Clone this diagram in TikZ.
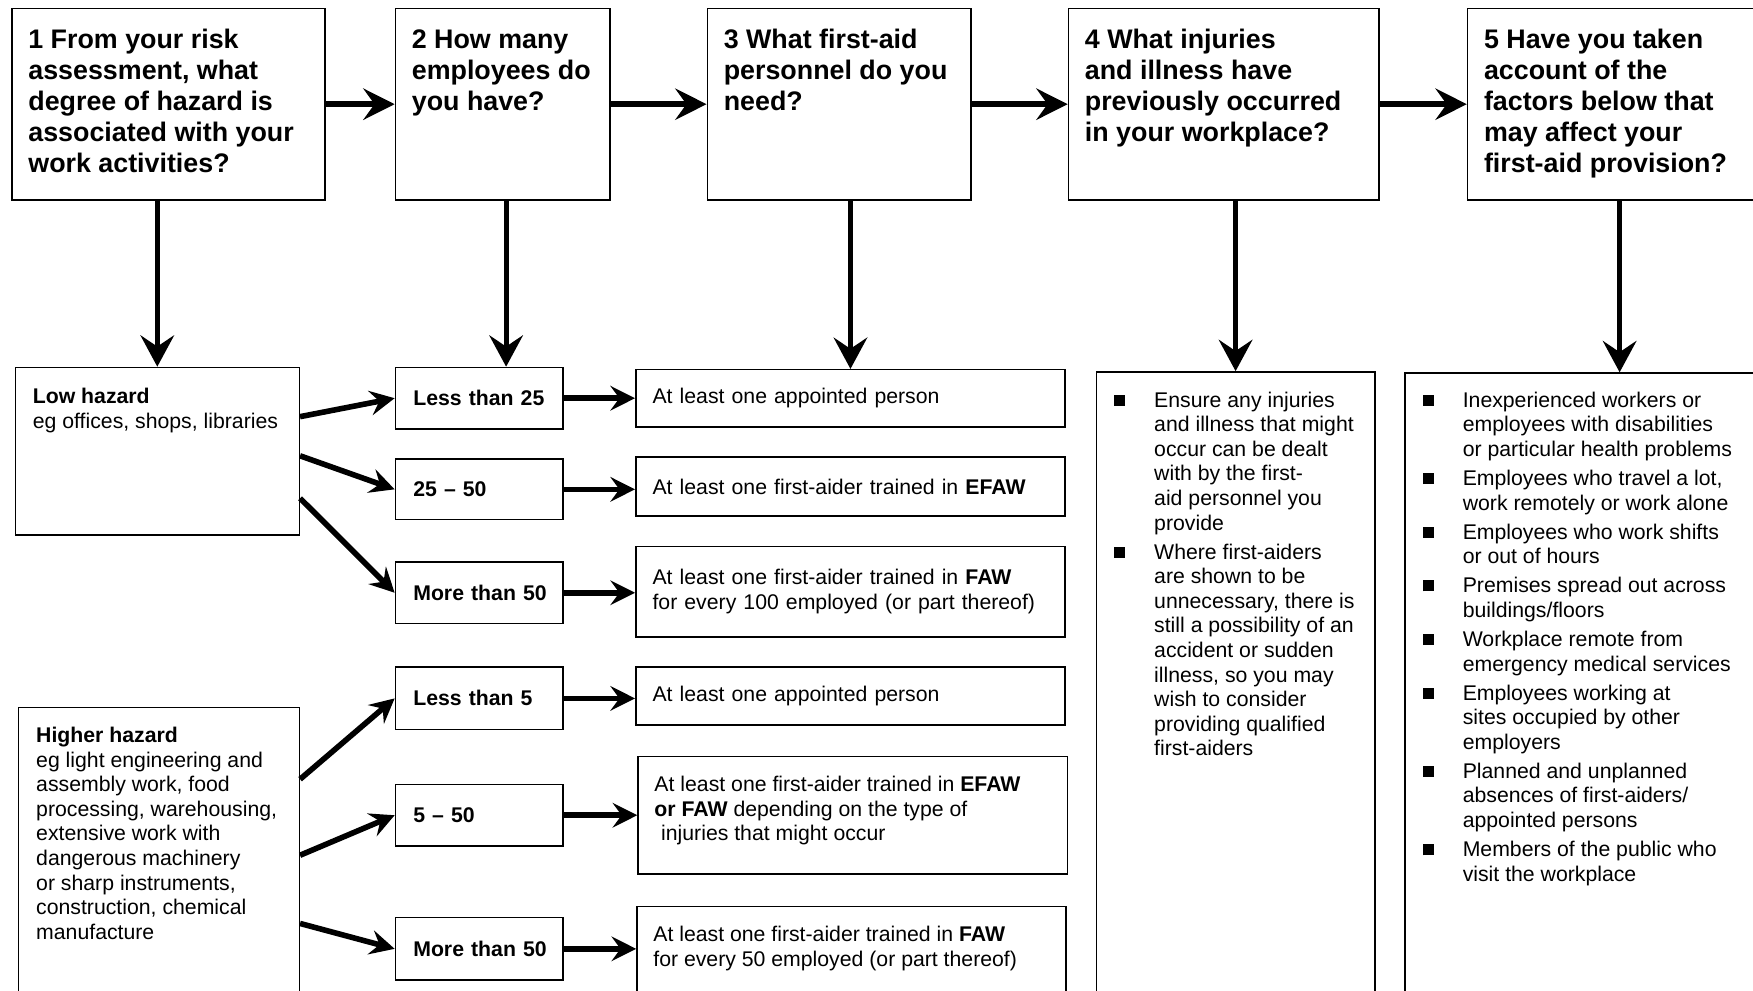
\documentclass[tikz,border=0pt]{standalone}
\usepackage{fontspec}
\setmainfont{Liberation Sans}
\usetikzlibrary{arrows.meta}
\newcommand{\sqbul}{\rule[0.6pt]{5pt}{5pt}}

\begin{document}
\begin{tikzpicture}[x=0.5pt, y=-0.5pt,
      box/.style={draw, line width=0.7pt, anchor=north west, inner sep=0pt},
      qtxt/.style={anchor=north west, inner sep=0pt, align=left, font=\fontsize{12}{13.85}\selectfont\bfseries},
      btxt/.style={anchor=north west, inner sep=0pt, align=left, font=\fontsize{9.5}{11}\selectfont},
      ltxt/.style={anchor=north west, inner sep=0pt, font=\fontsize{9.5}{11}\selectfont},
      nbox/.style={draw, line width=0.7pt, anchor=north west, minimum width=75pt, text width=59pt, inner xsep=8pt, inner ysep=0pt, align=left, font=\fontsize{9.5}{11}\selectfont\bfseries},
      rbox/.style={draw, line width=0.7pt, anchor=north west, minimum width=192pt, text width=177pt, inner xsep=7.5pt, inner ysep=0pt, align=left, font=\fontsize{9.5}{11}\selectfont},
      big/.style={-{Stealth[length=14pt, width=14pt, inset=5pt]}, line width=2.7pt},
      down/.style={-{Stealth[length=14pt, width=15pt, inset=5pt]}, line width=2.2pt},
      arr/.style={-{Stealth[length=11pt, width=11pt, inset=4pt]}, line width=2.5pt}]
    \useasboundingbox (0,0) rectangle (1568,886);
    \clip (0,0) rectangle (1568,886);

    % question boxes
    \node[box, minimum width=140pt, minimum height=85.5pt] (q1) at (10,7) {};
    \node[box, minimum width=96pt, minimum height=85.5pt] (q2) at (353,7) {};
    \node[box, minimum width=118pt, minimum height=85.5pt] (q3) at (632,7) {};
    \node[box, minimum width=139pt, minimum height=85.5pt] (q4) at (955,7) {};
    \node[box, minimum width=140pt, minimum height=85.5pt] (q5) at (1312,7) {};
    \node[qtxt] (q1t) at ([shift={(15,19)}]q1.north west) {1 From your risk\\assessment, what\\degree of hazard is\\associated with your\\work activities?};
    \node[qtxt] (q2t) at ([shift={(15,19)}]q2.north west) {2 How many\\employees do\\you have?};
    \node[qtxt] (q3t) at ([shift={(15,19)}]q3.north west) {3 What first-aid\\personnel do you\\need?};
    \node[qtxt] (q4t) at ([shift={(15,19)}]q4.north west) {4 What injuries\\and illness have\\previously occurred\\in your workplace?};
    \node[qtxt] (q5t) at ([shift={(15,19)}]q5.north west) {5 Have you taken\\account of the\\factors below that\\may affect your\\first-aid provision?};

    % hazard level
    \node[box, minimum width=127pt, minimum height=75pt] (low) at (13,328) {};
    \node[btxt] (lowt) at ([shift={(16,19)}]low.north west) {\textbf{Low hazard}\\eg offices, shops, libraries};
    \node[box, minimum width=125.5pt, minimum height=150pt] (high) at (16,632) {};
    \node[btxt] (hight) at ([shift={(16,18)}]high.north west) {\textbf{Higher hazard}\\eg light engineering and\\assembly work, food\\processing, warehousing,\\extensive work with\\dangerous machinery\\or sharp instruments,\\construction, chemical\\manufacture};

    % number of employees
    \node[nbox, minimum height=27.5pt] (n1) at (353,328) {\mbox{Less than 25}};
    \node[nbox, minimum height=27pt] (n2) at (353,410) {25 -- 50};
    \node[nbox, minimum height=27.5pt] (n3) at (353,502) {\mbox{More than 50}};
    \node[nbox, minimum height=28pt] (n4) at (353,596) {Less than 5};
    \node[nbox, minimum height=27.5pt] (n5) at (353,701) {5 -- 50};
    \node[nbox, minimum height=28pt] (n6) at (353,820) {\mbox{More than 50}};

    % personnel needed
    \node[rbox, minimum height=25.5pt] (r1) at (568,330) {At least one appointed person};
    \node[rbox, minimum height=26.5pt] (r2) at (568,408) {At least one first-aider trained in \textbf{EFAW}};
    \node[rbox, minimum height=40.5pt] (r3) at (568,488) {At least one first-aider trained in \textbf{FAW}\\for every 100 employed (or part thereof)};
    \node[rbox, minimum height=26pt] (r4) at (568,596) {At least one appointed person};
    \node[box, minimum width=192pt, minimum height=52.5pt] (r5) at (570,676) {};
    \node[btxt] (r5t) at ([shift={(15,18)}]r5.north west) {At least one first-aider trained in \textbf{EFAW}\\\textbf{or FAW} depending on the type of\\\hspace*{3pt}injuries that might occur};
    \node[box, minimum width=192pt, minimum height=60pt] (r6) at (569,810) {};
    \node[btxt] (r6t) at ([shift={(15,18)}]r6.north west) {At least one first-aider trained in \textbf{FAW}\\for every 50 employed (or part thereof)};

    % injuries and other factors
    \node[box, minimum width=124.5pt, minimum height=300pt] (L4) at (980,332) {};
    \node[ltxt] (L4t) at ([shift={(16,16.4)}]L4.north west) {\begin{tabular}{@{}l@{\hspace{13pt}}l@{}}
      \sqbul & Ensure any injuries\\ & and illness that might\\ & occur can be dealt\\ & with by the first-\\ & aid personnel you\\ & provide\\[2pt]
      \sqbul & Where first-aiders\\ & are shown to be\\ & unnecessary, there is\\ & still a possibility of an\\ & accident or sudden\\ & illness, so you may\\ & wish to consider\\ & providing qualified\\ & first-aiders
    \end{tabular}};
    \node[box, minimum width=192pt, minimum height=300pt] (L5) at (1256,333) {};
    \node[ltxt] (L5t) at ([shift={(16,15.4)}]L5.north west) {\begin{tabular}{@{}l@{\hspace{13pt}}l@{}}
      \sqbul & Inexperienced workers or\\ & employees with disabilities\\ & or particular health problems\\[2pt]
      \sqbul & Employees who travel a lot,\\ & work remotely or work alone\\[2pt]
      \sqbul & Employees who work shifts\\ & or out of hours\\[2pt]
      \sqbul & Premises spread out across\\ & buildings/floors\\[2pt]
      \sqbul & Workplace remote from\\ & emergency medical services\\[2pt]
      \sqbul & Employees working at\\ & sites occupied by other\\ & employers\\[2pt]
      \sqbul & Planned and unplanned\\ & absences of first-aiders/\\ & appointed persons\\[2pt]
      \sqbul & Members of the public who\\ & visit the workplace
    \end{tabular}};

    % arrows
    \draw[big] (q1.east) -- (q2.west);
    \draw[big] (q2.east) -- (q3.west);
    \draw[big] (q3.east) -- (q4.west);
    \draw[big] (q4.east) -- (q5.west);
    \draw[down] (q1.south -| low.north) -- (low.north);
    \draw[down] ([xshift=1.5pt]q2.south) -- ([xshift=1.5pt]q2.south |- n1.north);
    \draw[down] (q3.south -| r1.north) -- (r1.north);
    \draw[down] (q4.south -| L4.north) -- (L4.north);
    \draw[down] (q5.south -| L5.north) -- (L5.north);
    \draw[arr] ([yshift=15.5pt]low.east) -- (n1.west);
    \draw[arr] ([yshift=-2pt]low.east) -- (n2.west);
    \draw[arr] ([yshift=-21pt]low.east) -- (n3.west);
    \draw[arr] ([yshift=-32.5pt]high.north east) -- (n4.west);
    \draw[arr] ([yshift=-66.5pt]high.north east) -- (n5.west);
    \draw[arr] ([yshift=-97pt]high.north east) -- (n6.west);
    \draw[arr] (n1.east) -- (n1.east -| r1.west);
    \draw[arr] (n2.east) -- (n2.east -| r2.west);
    \draw[arr] (n3.east) -- (n3.east -| r3.west);
    \draw[arr] (n4.east) -- (n4.east -| r4.west);
    \draw[arr] (n5.east) -- (n5.east -| r5.west);
    \draw[arr] (n6.east) -- (n6.east -| r6.west);
  \end{tikzpicture}
\end{document}
